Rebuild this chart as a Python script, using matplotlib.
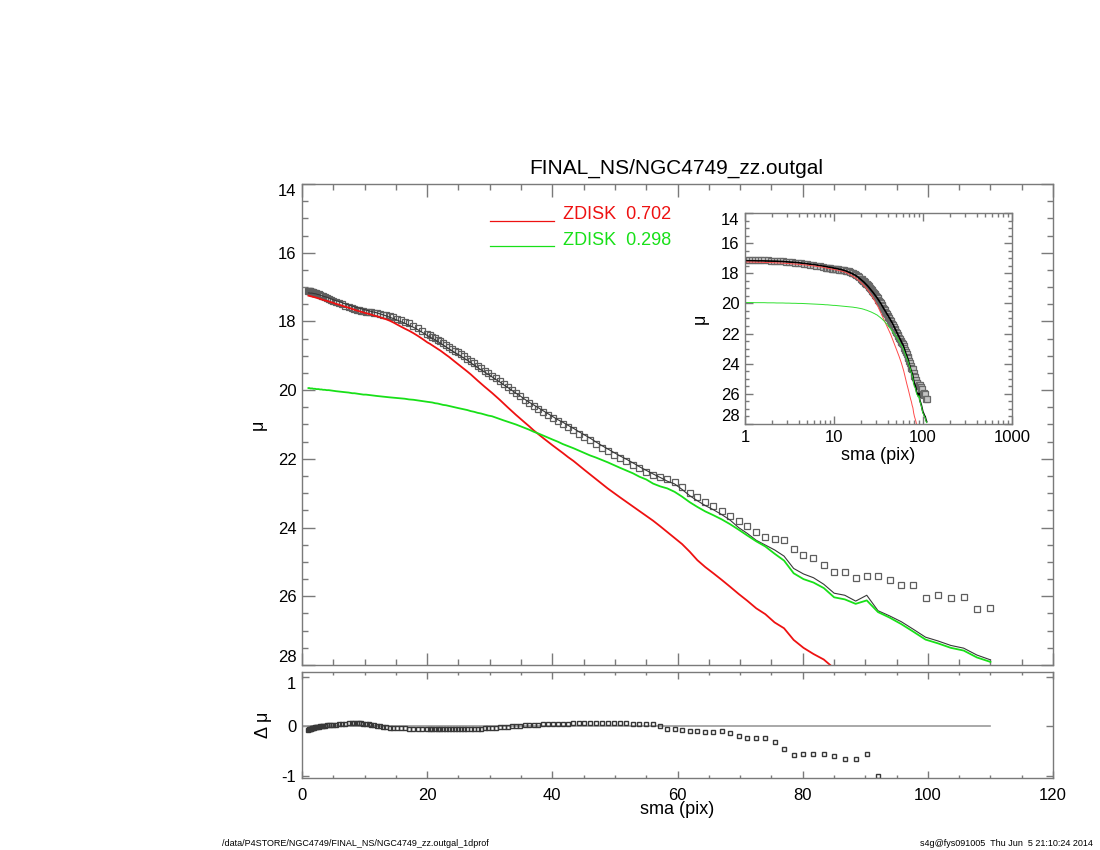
import numpy as np
import matplotlib
matplotlib.use('Agg')
import matplotlib.pyplot as plt
from matplotlib.ticker import MultipleLocator, LogLocator, NullFormatter, FixedLocator

plt.rcParams['font.family'] = ['Liberation Sans', 'DejaVu Sans']
plt.rcParams['axes.unicode_minus'] = False

# ---------------- data ----------------
sma = [1.03, 1.11, 1.20, 1.30, 1.41, 1.53, 1.65, 1.79, 1.94, 2.10,
       2.27, 2.46, 2.66, 2.88, 3.12, 3.37, 3.65, 3.95, 4.28, 4.63,
       5.01, 5.42, 5.87, 6.35, 6.88, 7.44, 8.06, 8.38, 8.72, 9.07,
       9.44, 9.82, 10.22, 10.63, 11.06, 11.51, 11.97, 12.46, 12.96, 13.48,
       14.03, 14.59, 15.18, 15.80, 16.43, 17.10, 17.79, 18.50, 19.25, 20.03,
       20.43, 20.84, 21.26, 21.69, 22.12, 22.56, 23.01, 23.47, 23.94, 24.42,
       24.91, 25.41, 25.91, 26.43, 26.96, 27.50, 28.05, 28.61, 29.18, 29.77,
       30.36, 30.97, 31.59, 32.22, 32.87, 33.52, 34.19, 34.88, 35.58, 36.29,
       37.01, 37.75, 38.51, 39.28, 40.06, 40.87, 41.68, 42.52, 43.37, 44.24,
       45.12, 46.02, 46.94, 47.88, 48.84, 49.82, 50.81, 51.83, 52.87, 53.92,
       55.00, 56.10, 57.22, 58.37, 59.54, 60.73, 61.94, 63.18, 64.44, 65.73,
       67.05, 68.39, 69.76, 71.15, 72.58, 74.03, 75.51, 77.02, 78.56, 80.13,
       81.73, 83.37, 85.03, 86.73, 88.47, 90.24, 92.04, 93.88, 95.76, 97.68,
       99.63, 101.62, 103.66, 105.73, 107.84, 110.00]

mu_data = [17.10, 17.11, 17.11, 17.12, 17.13, 17.13, 17.14, 17.15, 17.16, 17.17,
           17.18, 17.20, 17.21, 17.23, 17.25, 17.27, 17.29, 17.31, 17.34, 17.37,
           17.40, 17.43, 17.46, 17.50, 17.54, 17.58, 17.62, 17.64, 17.66, 17.67,
           17.69, 17.70, 17.72, 17.73, 17.74, 17.75, 17.76, 17.78, 17.80, 17.82,
           17.85, 17.88, 17.92, 17.96, 18.01, 18.06, 18.12, 18.19, 18.27, 18.36,
           18.40, 18.44, 18.48, 18.53, 18.58, 18.63, 18.68, 18.74, 18.79, 18.85,
           18.90, 18.96, 19.02, 19.08, 19.15, 19.22, 19.29, 19.36, 19.43, 19.50,
           19.58, 19.66, 19.74, 19.83, 19.91, 20.00, 20.09, 20.18, 20.28, 20.37,
           20.46, 20.55, 20.64, 20.73, 20.82, 20.91, 20.99, 21.08, 21.17, 21.27,
           21.36, 21.46, 21.57, 21.68, 21.78, 21.88, 21.98, 22.07, 22.17, 22.28,
           22.38, 22.48, 22.54, 22.60, 22.67, 22.81, 22.98, 23.12, 23.25, 23.37,
           23.53, 23.65, 23.81, 23.94, 24.13, 24.28, 24.34, 24.36, 24.61, 24.79,
           24.90, 25.08, 25.30, 25.30, 25.47, 25.40, 25.41, 25.52, 25.66, 25.68,
           26.04, 25.95, 26.05, 26.02, 26.37, 26.35]

resid = [-0.070, -0.065, -0.060, -0.055, -0.050, -0.045, -0.040, -0.035, -0.030, -0.025,
         -0.020, -0.015, -0.010, -0.005, 0.000, 0.005, 0.010, 0.015, 0.020, 0.025,
         0.030, 0.035, 0.040, 0.050, 0.055, 0.060, 0.065, 0.065, 0.065, 0.065,
         0.060, 0.055, 0.050, 0.040, 0.030, 0.020, 0.010, 0.000, -0.010, -0.020,
         -0.030, -0.035, -0.040, -0.045, -0.045, -0.050, -0.050, -0.050, -0.055, -0.055,
         -0.055, -0.055, -0.055, -0.055, -0.055, -0.055, -0.055, -0.055, -0.055, -0.055,
         -0.055, -0.055, -0.055, -0.055, -0.055, -0.055, -0.055, -0.050, -0.045, -0.040,
         -0.035, -0.030, -0.020, -0.015, -0.010, -0.005, 0.000, 0.010, 0.015, 0.020,
         0.030, 0.035, 0.040, 0.045, 0.050, 0.050, 0.055, 0.055, 0.060, 0.060,
         0.060, 0.065, 0.065, 0.070, 0.070, 0.065, 0.065, 0.060, 0.055, 0.050,
         0.045, 0.040, 0.000, -0.050, -0.060, -0.080, -0.090, -0.100, -0.110, -0.110,
         -0.090, -0.130, -0.190, -0.230, -0.240, -0.230, -0.310, -0.470, -0.580, -0.560,
         -0.560, -0.570, -0.610, -0.670, -0.670, -0.570, -1.010, -1.050, -1.080, -1.280,
         -1.150, -1.350, -1.380, -1.490, -1.340, -1.500]

nan = float('nan')
mu_red = [17.25, 17.25, 17.26, 17.26, 17.27, 17.27, 17.28, 17.29, 17.29, 17.30,
          17.31, 17.32, 17.33, 17.34, 17.36, 17.37, 17.39, 17.40, 17.42, 17.44,
          17.46, 17.49, 17.51, 17.54, 17.57, 17.60, 17.64, 17.66, 17.68, 17.70,
          17.72, 17.74, 17.76, 17.78, 17.80, 17.83, 17.85, 17.88, 17.91, 17.94,
          17.98, 18.03, 18.09, 18.15, 18.21, 18.27, 18.34, 18.42, 18.51, 18.61,
          18.65, 18.70, 18.75, 18.80, 18.85, 18.91, 18.97, 19.03, 19.10, 19.17,
          19.24, 19.31, 19.38, 19.46, 19.54, 19.63, 19.72, 19.81, 19.90, 19.99,
          20.08, 20.18, 20.28, 20.39, 20.50, 20.61, 20.72, 20.83, 20.94, 21.05,
          21.17, 21.28, 21.39, 21.50, 21.61, 21.72, 21.83, 21.95, 22.06, 22.19,
          22.32, 22.45, 22.58, 22.72, 22.86, 22.99, 23.12, 23.25, 23.38, 23.52,
          23.66, 23.80, 23.96, 24.13, 24.30, 24.48, 24.70, 24.95, 25.15, 25.33,
          25.52, 25.72, 25.93, 26.13, 26.35, 26.52, 26.76, 26.93, 27.27, 27.50,
          27.68, 27.84, 28.10, nan, nan, nan, nan, nan, nan, nan,
          nan, nan, nan, nan, nan, nan]

mu_green = [19.94, 19.94, 19.94, 19.95, 19.95, 19.95, 19.95, 19.96, 19.96, 19.96,
            19.97, 19.97, 19.97, 19.98, 19.98, 19.99, 19.99, 20.00, 20.00, 20.01,
            20.02, 20.03, 20.04, 20.05, 20.06, 20.07, 20.09, 20.09, 20.10, 20.11,
            20.12, 20.13, 20.13, 20.14, 20.15, 20.16, 20.17, 20.18, 20.19, 20.20,
            20.21, 20.22, 20.23, 20.24, 20.25, 20.27, 20.28, 20.30, 20.32, 20.34,
            20.35, 20.36, 20.38, 20.39, 20.41, 20.43, 20.44, 20.46, 20.48, 20.50,
            20.52, 20.54, 20.56, 20.58, 20.61, 20.63, 20.66, 20.68, 20.71, 20.74,
            20.76, 20.80, 20.84, 20.88, 20.92, 20.96, 21.00, 21.05, 21.10, 21.15,
            21.21, 21.26, 21.32, 21.38, 21.44, 21.50, 21.57, 21.63, 21.69, 21.76,
            21.83, 21.90, 21.96, 22.03, 22.10, 22.18, 22.26, 22.34, 22.42, 22.52,
            22.60, 22.72, 22.80, 22.86, 22.96, 23.10, 23.26, 23.40, 23.53, 23.64,
            23.76, 23.90, 24.06, 24.23, 24.40, 24.55, 24.76, 24.96, 25.33, 25.50,
            25.60, 25.76, 26.03, 26.09, 26.22, 26.12, 26.46, 26.62, 26.81, 27.03,
            27.26, 27.37, 27.50, 27.58, 27.78, 27.91]

title = "FINAL_NS/NGC4749_zz.outgal"
comp_names = ["ZDISK  0.702", "ZDISK  0.298"]
footer_left = "/data/P4STORE/NGC4749/FINAL_NS/NGC4749_zz.outgal_1dprof"
footer_right = "s4g@fys091005  Thu Jun  5 21:10:24 2014"
main_xticks = [0, 20, 40, 60, 80, 100, 120]
main_yticks = [14, 16, 18, 20, 22, 24, 26, 28]
res_yticks = [-1, 0, 1]
inset_xticks = [1, 10, 100, 1000]

# ---------------- derived ----------------
sma = np.array(sma)
mu_data = np.array(mu_data)
resid = np.array(resid)
mu_red = np.array(mu_red)
mu_green = np.array(mu_green)
mu_total = mu_data - resid

# ---------------- figure ----------------
W, H = 1100, 850
fig = plt.figure(figsize=(W / 100, H / 100), dpi=100)
fig.patch.set_facecolor('white')


def rect(l, t, r, b):
    return [l / W, 1 - b / H, (r - l) / W, (b - t) / H]


frame = '#7a7a7a'
RED = '#ee1111'
GREEN = '#18e018'
MK = '#5e5e5e'


def style(a, maj=9, mnr=4.5, pad=4):
    for s in a.spines.values():
        s.set_color(frame)
        s.set_linewidth(1.0)
    a.tick_params(which='both', direction='in', top=True, right=True,
                  color=frame, width=1.0, labelsize=12, labelcolor='black')
    a.tick_params(which='major', length=maj, pad=pad)
    a.tick_params(which='minor', length=mnr)


ax = fig.add_axes(rect(302, 184, 1053, 665))
axr = fig.add_axes(rect(302, 672, 1053, 778))
axi = fig.add_axes(rect(745, 213, 1012, 424))

# main panel
ax.plot(sma, mu_data, ls='none', marker='s', ms=3.8, mfc='none', mec=MK, mew=0.9)
ax.plot(sma, mu_total, color='#383838', lw=0.8)
ax.plot(sma, mu_red, color=RED, lw=1.3)
ax.plot(sma, mu_green, color=GREEN, lw=1.3)
ax.set_xlim(0, 120)
ax.set_ylim(28, 14)
ax.xaxis.set_major_locator(FixedLocator(main_xticks))
ax.xaxis.set_minor_locator(MultipleLocator(5))
ax.yaxis.set_major_locator(FixedLocator(main_yticks))
ax.yaxis.set_minor_locator(MultipleLocator(0.5))
style(ax)
ax.tick_params(labelbottom=False)
ax.set_ylabel('μ', fontsize=13)
ax.yaxis.set_label_coords(-0.047, 0.5)

# legend
ax.plot([0.25, 0.335], [0.923, 0.923], transform=ax.transAxes, color=RED, lw=0.9)
ax.plot([0.25, 0.335], [0.871, 0.871], transform=ax.transAxes, color=GREEN, lw=0.9)
ax.text(0.3475, 0.936, comp_names[0], transform=ax.transAxes, color=RED,
        fontsize=13, ha='left', va='center')
ax.text(0.3475, 0.882, comp_names[1], transform=ax.transAxes, color=GREEN,
        fontsize=13, ha='left', va='center')

fig.text(676 / W, 1 - 168 / H, title, fontsize=15, ha='center', va='center')

# residual panel
axr.plot([0, sma[-1]], [0, 0], color='#9a9a9a', lw=1.2)
mask = resid >= -1.045
axr.plot(sma[mask], resid[mask], ls='none', marker='s', ms=3.0, mfc='none', mec='#383838', mew=1.0)
axr.set_xlim(0, 120)
axr.set_ylim(-1.05, 1.10)
axr.xaxis.set_major_locator(FixedLocator(main_xticks))
axr.xaxis.set_minor_locator(MultipleLocator(5))
axr.yaxis.set_major_locator(FixedLocator(res_yticks))
style(axr, maj=5, mnr=2.5)
axr.tick_params(axis='x', which='major', pad=7)
axr.set_ylabel('Δ μ', fontsize=13)
axr.yaxis.set_label_coords(-0.040, 0.5)
axr.set_xlabel('sma (pix)', fontsize=13)
axr.xaxis.set_label_coords(0.5, -0.22)

# inset
axi.plot(sma, mu_data, ls='none', marker='s', ms=4.4, mfc='#c4c4c4', mec='#686868', mew=0.9)
axi.plot(sma, mu_total, color='black', lw=1.2)
axi.plot(sma, mu_red, color='#ff4a4a', lw=0.7)
axi.plot(sma, mu_green, color='#30e030', lw=0.7)
axi.set_xscale('log')
axi.set_xlim(1, 1000)
axi.set_ylim(28, 14)
axi.xaxis.set_major_locator(FixedLocator(inset_xticks))
axi.set_xticklabels([str(v) for v in inset_xticks])
axi.xaxis.set_minor_locator(LogLocator(base=10, subs=np.arange(2, 10)))
axi.xaxis.set_minor_formatter(NullFormatter())
axi.yaxis.set_major_locator(FixedLocator(main_yticks))
axi.yaxis.set_minor_locator(MultipleLocator(0.5))
style(axi, maj=6, mnr=3)
axi.set_ylabel('μ', fontsize=13)
axi.yaxis.set_label_coords(-0.135, 0.5)
axi.set_xlabel('sma (pix)', fontsize=13)
axi.xaxis.set_label_coords(0.5, -0.11)

# edge tick labels kept inside the frame, as in the reference
fig.canvas.draw()
for a in (ax, axi):
    labs = a.get_yticklabels()
    labs[0].set_va('top')
    labs[-1].set_va('bottom')
rl = axr.get_yticklabels()
rl[-1].set_va('top')

# footer
fig.text(222 / W, 1 - 844 / H, footer_left, fontsize=6.5, ha='left', va='center')
fig.text(1093 / W, 1 - 844 / H, footer_right, fontsize=6.5, ha='right', va='center')

fig.savefig('out.png', dpi=100, facecolor='white')
